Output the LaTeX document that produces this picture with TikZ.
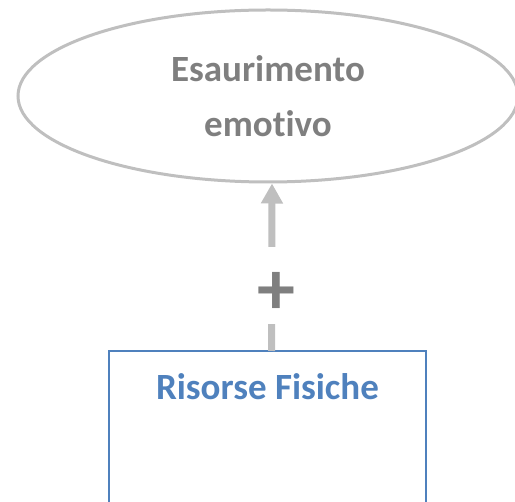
\documentclass[tikz,border=0pt]{standalone}
\usepackage{fontspec}
\setsansfont{Carlito}[Ligatures={NoCommon}]
\usetikzlibrary{positioning}
\usetikzlibrary{arrows.meta}
\usetikzlibrary{shapes.geometric}
\definecolor{linegray}{HTML}{BFBFBF}
\definecolor{textgray}{HTML}{7F7F7F}
\definecolor{boxblue}{HTML}{4F81BD}

\begin{document}
\begin{tikzpicture}[x=1pt,y=1pt,font=\sffamily\bfseries,
	outcome/.style={ellipse,draw=linegray,line width=3pt,minimum width=500pt,minimum height=172pt,inner sep=0pt,text=textgray,align=center,font=\sffamily\bfseries\fontsize{37}{55}\selectfont},
	factor/.style={rectangle,draw=boxblue,line width=2pt,minimum width=317pt,minimum height=170pt,outer sep=0pt},
	link/.style={-{Triangle[width=21pt,length=20pt]},draw=linegray,line width=7pt}]
	\useasboundingbox (0,0) rectangle (515,-502);
	\clip (0,0) rectangle (515,-502);
	\node [outcome] at (268,-96) (exhaust) {Esaurimento\\emotivo};
	\node [factor,anchor=north] at (267.5,-351) (physical) {};
	\node [anchor=base,text=boxblue,font=\sffamily\bfseries\fontsize{37}{44}\selectfont] at ([yshift=-49pt]physical.north) (physlabel) {Risorse Fisiche};
	\draw [link] ([xshift=4pt]physical.north) -- node [pos=0.39,fill=white,minimum height=77pt,inner xsep=0pt,text=textgray,font=\sffamily\bfseries\fontsize{76}{76}\selectfont] (sign) {\raisebox{-29pt}[0pt][0pt]{\hspace{10pt}+}} ([xshift=4pt]exhaust.south);
\end{tikzpicture}
\end{document}
